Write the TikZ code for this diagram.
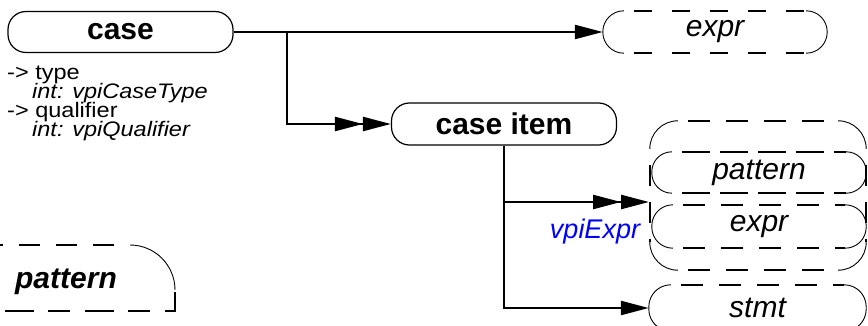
\documentclass[tikz,border=0pt]{standalone}
\usepackage{fontspec}
\setmainfont{Liberation Sans}
\newfontfamily\attrfont{Liberation Sans}[FakeStretch=1.12]
\usetikzlibrary{arrows.meta}
\newcommand\pillframe[3]{%
 \draw[arcline, rounded corners=#2] ([xshift=#2]#1.north west) -- (#1.north west) -- (#1.south west) -- ([xshift=#2]#1.south west);
 \draw[arcline, rounded corners=#2] ([xshift=-#2]#1.north east) -- (#1.north east) -- (#1.south east) -- ([xshift=-#2]#1.south east);
 \draw[#3] ([xshift=#2]#1.north west) -- ([xshift=-#2]#1.north east);
 \draw[#3] ([xshift=#2]#1.south west) -- ([xshift=-#2]#1.south east);
}
\begin{document}
\begin{tikzpicture}[x=1pt,y=-1pt,
  pill/.style={draw, line width=1.2pt, rounded corners=18pt, inner sep=0pt,
    font=\fontsize{30}{36}\selectfont\bfseries},
  ghost/.style={inner sep=0pt, font=\fontsize{30}{36}\selectfont\itshape},
  attr/.style={inner sep=0pt, anchor=base west, font=\attrfont\fontsize{21}{24}\selectfont},
  arcline/.style={line width=0.9pt},
  dashA/.style={line width=2pt, dash pattern=on 22pt off 16pt, dash phase=28pt},
  dashB/.style={line width=2pt, dash pattern=on 18pt off 20pt, dash phase=28pt},
  dashC/.style={line width=2pt, dash pattern=on 28pt off 10pt, dash phase=28pt},
  conn/.style={line width=2.4pt},
  onearrow/.style={-{Triangle[length=28pt,width=14pt]}},
  twoarrow/.style={-{Triangle[length=28pt,width=14pt,sep=0pt]Triangle[length=28pt,width=14pt]}}
]
\useasboundingbox (0,0) rectangle (868,326);

% main nodes
\node[pill, minimum width=225pt, minimum height=41pt] (case) at (120.5,32) {case};
\node[pill, minimum width=225pt, minimum height=42pt] (item) at (504,124) {case item};

% attributes
\node[attr] (a1) at (7,80) {-> type};
\node[attr] (a2) at (32,99) {\itshape int: vpiCaseType};
\node[attr] (a3) at (7,118) {-> qualifier};
\node[attr] (a4) at (32,137) {\itshape int: vpiQualifier};

% top expr
\node[ghost, minimum width=224pt, minimum height=42pt] (expr1) at (715,32) {expr};
\pillframe{expr1}{21pt}{dashB}

% group
\node[inner sep=0pt, minimum width=216pt, minimum height=149pt] (grp) at (758,195.5) {};
\draw[arcline, rounded corners=28pt] ([xshift=28pt]grp.north west) -- (grp.north west) -- ([yshift=-28pt]grp.north west);
\draw[arcline, rounded corners=28pt] ([xshift=-28pt]grp.north east) -- (grp.north east) -- ([yshift=-28pt]grp.north east);
\draw[arcline, rounded corners=28pt] ([xshift=28pt]grp.south west) -- (grp.south west) -- ([yshift=28pt]grp.south west);
\draw[arcline, rounded corners=28pt] ([xshift=-28pt]grp.south east) -- (grp.south east) -- ([yshift=28pt]grp.south east);
\draw[dashA] ([xshift=28pt]grp.north west) -- ([xshift=-28pt]grp.north east);
\draw[dashA] ([xshift=28pt]grp.south west) -- ([xshift=-28pt]grp.south east);
\draw[line width=2pt, dash pattern=on 21pt off 16pt, dash phase=21pt] ([yshift=-28pt]grp.north west) -- ([yshift=28pt]grp.south west);
\draw[line width=2pt, dash pattern=on 21pt off 16pt, dash phase=21pt] ([yshift=-28pt]grp.north east) -- ([yshift=28pt]grp.south east);

\node[ghost, minimum width=214pt, minimum height=41pt] (pat) at (759,172.5) {pattern};
\pillframe{pat}{20pt}{dashC}
\node[ghost, minimum width=214pt, minimum height=43pt] (expr2) at (759,226.5) {expr};
\pillframe{expr2}{21pt}{dashA}

% stmt
\node[ghost, minimum width=217pt, minimum height=46pt] (stmt) at (757.5,308) {stmt};
\pillframe{stmt}{22pt}{dashA}

% bottom-left pattern
\node[inner sep=0pt, font=\fontsize{30}{36}\selectfont\bfseries\itshape] (patL) at (66,282) {pattern};
\draw[line width=2pt, dash pattern=on 21pt off 16pt, dash phase=21pt] (130,245) -- (-40,245);
\draw[arcline, rounded corners=45pt] (130,245) -- (175,245) -- (175,290);
\draw[line width=2pt, dash pattern=on 29pt off 15pt on 22pt off 14pt] (175,292) -- (175,311) -- (-40,311);

% connectors
\coordinate (b1) at (287,32);
\coordinate (gin) at (649,202);
\draw[conn, onearrow] (case.east) -- (expr1.west);
\draw[conn, twoarrow] (b1) |- (item.west);
\draw[conn, twoarrow] (item.south) |- (gin);
\draw[conn, onearrow] (item.south) |- (stmt.west);
\node[inner sep=0pt, text=blue, font=\fontsize{27}{32}\selectfont\itshape] (lbl) at (595,232) {vpiExpr};
\end{tikzpicture}
\end{document}
